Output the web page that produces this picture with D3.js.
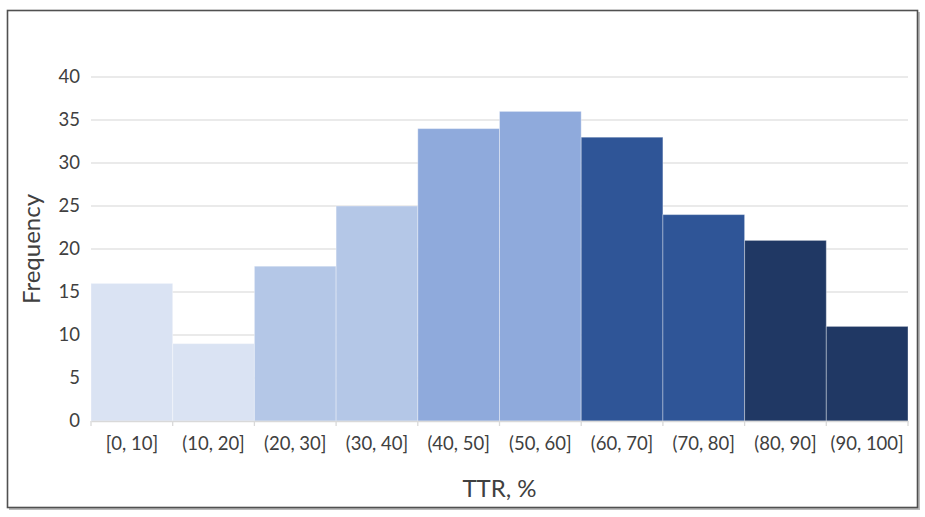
<!DOCTYPE html>
<html>
<head>
<meta charset="utf-8">
<script src="https://cdn.jsdelivr.net/npm/d3@7"></script>
<style>
  body { margin: 0; background: #fff; }
  text { font-family: Lato, "Open Sans", sans-serif; }
</style>
</head>
<body>
<div id="chart"></div>
<script>
const categories = ["[0, 10]", "(10, 20]", "(20, 30]", "(30, 40]", "(40, 50]",
                    "(50, 60]", "(60, 70]", "(70, 80]", "(80, 90]", "(90, 100]"];
const frequencies = [16, 9, 18, 25, 34, 36, 33, 24, 21, 11];
const barColors = ["#dae3f3", "#dae3f3", "#b4c7e7", "#b4c7e7", "#8faadc",
                   "#8faadc", "#2f5597", "#2f5597", "#203864", "#203864"];
const yTicks = [0, 5, 10, 15, 20, 25, 30, 35, 40];

const W = 925, H = 517;
const margin = { left: 91, right: 17, top: 77, bottom: 96 };

const svg = d3.select("#chart").append("svg")
    .attr("width", W)
    .attr("height", H);

// frame with a soft shadow
svg.append("rect")
    .attr("x", 9).attr("y", 12)
    .attr("width", 911).attr("height", 498)
    .attr("fill", "#bbb");
svg.append("rect")
    .attr("x", 7.5).attr("y", 10.5)
    .attr("width", 910).attr("height", 497)
    .attr("fill", "#fff")
    .attr("stroke", "#505050")
    .attr("stroke-width", 1.6);

const x = d3.scaleBand()
    .domain(categories)
    .range([margin.left, W - margin.right])
    .padding(0);

const y = d3.scaleLinear()
    .domain([0, 40])
    .range([H - margin.bottom, margin.top]);

// gridlines
svg.append("g")
    .selectAll("line")
    .data(yTicks.filter(d => d > 0))
    .join("line")
    .attr("x1", margin.left).attr("x2", W - margin.right)
    .attr("y1", d => y(d)).attr("y2", d => y(d))
    .attr("stroke", "#e3e3e3")
    .attr("stroke-width", 1.3);

// bars
svg.append("g")
    .selectAll("rect")
    .data(categories)
    .join("rect")
    .attr("x", d => x(d))
    .attr("y", (d, i) => y(frequencies[i]))
    .attr("width", x.bandwidth())
    .attr("height", (d, i) => y(0) - y(frequencies[i]))
    .attr("fill", (d, i) => barColors[i])
    .attr("stroke", "rgba(255,255,255,0.35)")
    .attr("stroke-width", 1);

// x axis
const xAxis = svg.append("g")
    .attr("transform", `translate(0,${y(0)})`)
    .call(d3.axisBottom(x).tickSize(0).tickPadding(16));
xAxis.select(".domain").attr("stroke", "#d9d9d9").attr("stroke-width", 1.3);
xAxis.selectAll("text")
    .attr("fill", "#404040")
    .style("font-size", "18.5px");

// boundary tick marks
svg.append("g")
    .selectAll("line")
    .data(categories.concat(["end"]))
    .join("line")
    .attr("x1", (d, i) => i < categories.length ? x(d) : x.range()[1])
    .attr("x2", (d, i) => i < categories.length ? x(d) : x.range()[1])
    .attr("y1", y(0)).attr("y2", y(0) + 5)
    .attr("stroke", "#d9d9d9")
    .attr("stroke-width", 1.3);

// y axis
const yAxis = svg.append("g")
    .attr("transform", `translate(${margin.left},0)`)
    .call(d3.axisLeft(y).tickValues(yTicks).tickSize(0).tickPadding(11));
yAxis.select(".domain").remove();
yAxis.selectAll("text")
    .attr("fill", "#404040")
    .style("font-size", "18.5px");

// axis titles
svg.append("text")
    .attr("x", (margin.left + W - margin.right) / 2)
    .attr("y", 497)
    .attr("text-anchor", "middle")
    .attr("fill", "#404040")
    .style("font-size", "24px")
    .text("TTR, %");

svg.append("text")
    .attr("transform", `translate(40,${(y(0) + y(40)) / 2}) rotate(-90)`)
    .attr("text-anchor", "middle")
    .attr("fill", "#404040")
    .style("font-size", "24px")
    .text("Frequency");
</script>
</body>
</html>
